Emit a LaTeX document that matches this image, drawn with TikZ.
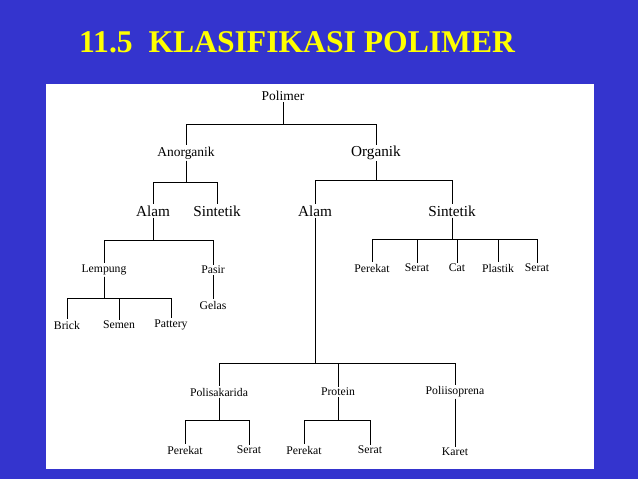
\documentclass[tikz,border=0pt]{standalone}
\usepackage{fontspec}
\setmainfont{Liberation Serif}
\definecolor{slideblue}{RGB}{52,52,206}
\definecolor{titleyellow}{RGB}{255,255,0}
\tikzset{
  big/.style={inner sep=1pt, font=\fontsize{13}{13}\selectfont},
  mid/.style={inner sep=1pt, font=\fontsize{11.5}{12}\selectfont},
  leaf/.style={inner sep=1pt, font=\fontsize{10}{10}\selectfont},
  branch/.style={black, line width=0.7pt}
}
\begin{document}
\begin{tikzpicture}[x=0.03cm,y=-0.03cm]
    \fill [slideblue] (0,0) rectangle (638,479);
    \fill [white] (46,84) rectangle (594,469);
    \node [anchor=west, text=titleyellow, font=\fontsize{27}{30}\bfseries\selectfont] (title) at (75,42) {11.5\ \ KLASIFIKASI POLIMER};
    % top levels
    \node [mid] (polimer) at (283,96) {Polimer};
    \node [mid] (anorg) at (186,153) {Anorganik};
    \node [big] (org) at (376,153) {Organik};
    \node [big] (alamA) at (153,211) {Alam};
    \node [big] (sintA) at (217,211) {Sintetik};
    \node [big] (alamO) at (315,211) {Alam};
    \node [big] (sintO) at (452,211) {Sintetik};
    % anorganik branch
    \node [leaf] (lempung) at (104,270) {Lempung};
    \node [leaf] (pasir) at (213,270) {Pasir};
    \node [leaf] (gelas) at (213,305) {Gelas};
    \node [leaf] (brick) at (67,325) {Brick};
    \node [leaf] (semen) at (119,325) {Semen};
    \node [leaf] (pattery) at (171,325) {Pattery};
    % organik sintetik
    \node [leaf] (s1) at (372,268) {Perekat};
    \node [leaf] (s2) at (417,268) {Serat};
    \node [leaf] (s3) at (457,268) {Cat};
    \node [leaf] (s4) at (498,268) {Plastik};
    \node [leaf] (s5) at (537,268) {Serat};
    % organik alam
    \node [leaf] (polisak) at (219,392) {Polisakarida};
    \node [leaf] (protein) at (338,392) {Protein};
    \node [leaf] (poliiso) at (455,392) {Poliisoprena};
    \node [leaf] (p1) at (185,450) {Perekat};
    \node [leaf] (p2) at (249,450) {Serat};
    \node [leaf] (p3) at (304,450) {Perekat};
    \node [leaf] (p4) at (370,450) {Serat};
    \node [leaf] (karet) at (455,452) {Karet};
    % branches
    \foreach \p/\y/\cs in {polimer/124/{anorg,org}, anorg/182/{alamA,sintA},
        org/180/{alamO,sintO}, alamA/240/{lempung,pasir},
        lempung/298/{brick,semen,pattery}, sintO/239/{s1,s2,s3,s4,s5},
        alamO/363/{polisak,protein,poliiso}, polisak/420/{p1,p2},
        protein/420/{p3,p4}}
      \foreach \c in \cs
        \draw [branch] (\p.south) -- (\p.south |- 0,\y) -| (\c.north);
    \draw [branch] (pasir) -- (gelas);
    \draw [branch] (poliiso) -- (karet);
\end{tikzpicture}
\end{document}
